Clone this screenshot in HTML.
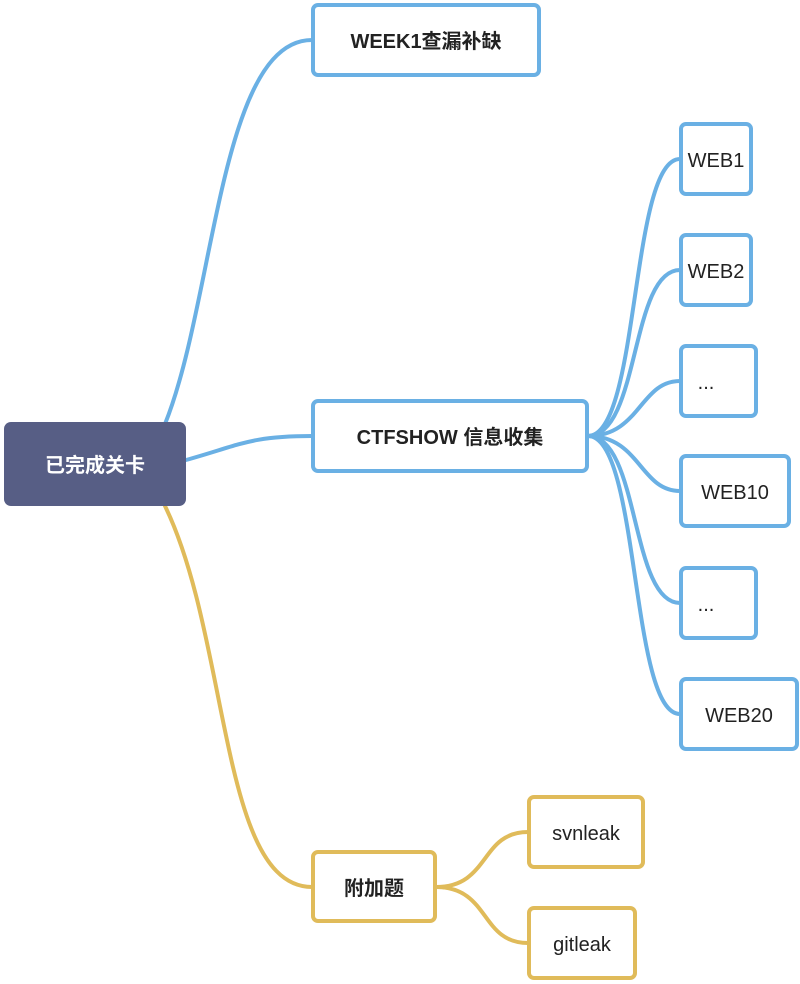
<!DOCTYPE html>
<html><head><meta charset="utf-8"><style>
html,body{margin:0;padding:0;background:#fff;width:800px;height:984px;overflow:hidden}
text{font-family:"Liberation Sans","Noto Sans CJK SC",sans-serif}
</style></head><body>
<svg width="800" height="984" viewBox="0 0 800 984" xmlns="http://www.w3.org/2000/svg">
<g fill="none" stroke-width="4" stroke-linecap="round">
<path d="M165,424 C215,300 220,40 312,40" stroke="#6ab0e4"/>
<path d="M186,460 C240,445 250,436 312,436" stroke="#6ab0e4"/>
<path d="M165,506 C230,640 220,887 312,887" stroke="#e0bb5a"/>
<g stroke="#6ab0e4">
<path d="M588,436 C640,436 630,159 680,159"/>
<path d="M588,436 C640,436 630,270 680,270"/>
<path d="M588,436 C640,436 640,381 680,381"/>
<path d="M588,436 C640,436 640,491 680,491"/>
<path d="M588,436 C640,436 630,603 680,603"/>
<path d="M588,436 C640,436 630,714 680,714"/>
</g>
<g stroke="#e0bb5a">
<path d="M436,887 C490,887 480,832 528,832"/>
<path d="M436,887 C490,887 480,943 528,943"/>
</g>
</g>
<rect x="4" y="422" width="182" height="84" rx="7" fill="#575e85"/>
<text x="95" y="472" text-anchor="middle" font-size="20" font-weight="bold" fill="#fff">已完成关卡</text>
<g fill="#fff" stroke="#6ab0e4" stroke-width="4">
<rect x="313" y="5" width="226" height="70" rx="5"/>
<rect x="313" y="401" width="274" height="70" rx="5"/>
<rect x="681" y="124" width="70" height="70" rx="5"/>
<rect x="681" y="235" width="70" height="70" rx="5"/>
<rect x="681" y="346" width="75" height="70" rx="5"/>
<rect x="681" y="456" width="108" height="70" rx="5"/>
<rect x="681" y="568" width="75" height="70" rx="5"/>
<rect x="681" y="679" width="116" height="70" rx="5"/>
</g>
<g fill="#fff" stroke="#e0bb5a" stroke-width="4">
<rect x="313" y="852" width="122" height="69" rx="5"/>
<rect x="529" y="797" width="114" height="70" rx="5"/>
<rect x="529" y="908" width="106" height="70" rx="5"/>
</g>
<g font-size="20" fill="#222">
<text x="426" y="48" text-anchor="middle" font-weight="bold">WEEK1查漏补缺</text>
<text x="450" y="444" text-anchor="middle" font-weight="bold">CTFSHOW 信息收集</text>
<text x="374" y="895" text-anchor="middle" font-weight="bold">附加题</text>
<text x="716" y="167" text-anchor="middle">WEB1</text>
<text x="716" y="278" text-anchor="middle">WEB2</text>
<text x="706" y="389" text-anchor="middle">...</text>
<text x="735" y="499" text-anchor="middle">WEB10</text>
<text x="706" y="611" text-anchor="middle">...</text>
<text x="739" y="722" text-anchor="middle">WEB20</text>
<text x="586" y="840" text-anchor="middle">svnleak</text>
<text x="582" y="951" text-anchor="middle">gitleak</text>
</g>
</svg>
</body></html>
